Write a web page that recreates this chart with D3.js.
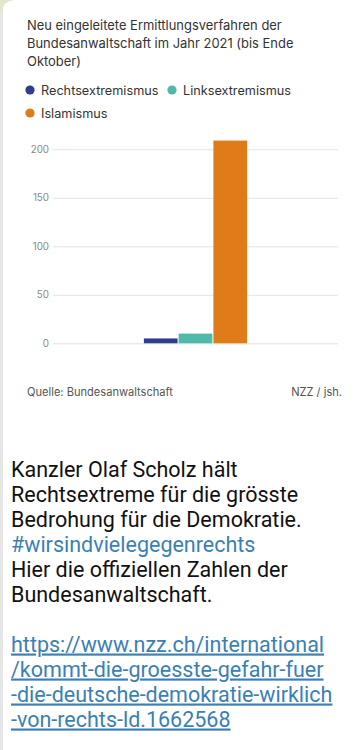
<!DOCTYPE html>
<html>
<head>
<meta charset="utf-8">
<script src="https://cdn.jsdelivr.net/npm/d3@7"></script>
<style>
  html, body { margin: 0; padding: 0; background: #fff; }
  svg { display: block; }
</style>
</head>
<body>
<div id="chart"></div>
<script>
// ---- data ----
const titleLines = ["Neu eingeleitete Ermittlungsverfahren der", "Bundesanwaltschaft im Jahr 2021 (bis Ende", "Oktober)"];
const categories = ["Rechtsextremismus", "Linksextremismus", "Islamismus"];
const values = [5, 10, 209];
const colors = ["#2e3d8c", "#4fbaa9", "#e07b19"];
const yTicks = [0, 50, 100, 150, 200];
const sourceText = "Quelle: Bundesanwaltschaft";
const creditText = "NZZ / jsh.";
const messageLines = [
  {t: "Kanzler Olaf Scholz hält", k: "text"},
  {t: "Rechtsextreme für die grösste", k: "text"},
  {t: "Bedrohung für die Demokratie.", k: "text"},
  {t: "#wirsindvielegegenrechts", k: "tag"},
  {t: "Hier die offiziellen Zahlen der", k: "text"},
  {t: "Bundesanwaltschaft.", k: "text"},
  {t: "", k: "text"},
  {t: "https://www.nzz.ch/international", k: "link"},
  {t: "/kommt-die-groesste-gefahr-fuer", k: "link"},
  {t: "-die-deutsche-demokratie-wirklich", k: "link"},
  {t: "-von-rechts-ld.1662568", k: "link"}
];

const W = 356, H = 750;
const svg = d3.select("#chart").append("svg").attr("width", W).attr("height", H);

// bubble background / left edge
svg.append("rect").attr("x", 0).attr("y", 0).attr("width", W).attr("height", H).attr("fill", "#ffffff");
svg.append("rect").attr("x", 0).attr("y", 0).attr("width", 3).attr("height", H).attr("fill", "#e6e6e6");
svg.append("path").attr("d", "M0,0 L14,0 Q3,1 2,12 L0,12 Z").attr("fill", "#dfe8c8");

const chartFont = "Inter, Roboto, sans-serif";

// title
svg.append("g").selectAll("text").data(titleLines).join("text")
  .attr("x", 27).attr("y", (d, i) => 29.5 + i * 18.2)
  .attr("font-family", chartFont).attr("font-size", 12.95)
  .attr("fill", "#333").text(d => d);

// legend
const legendItems = [
  {x: 30, y: 90}, {x: 172, y: 90}, {x: 30, y: 113}
];
const lg = svg.append("g").selectAll("g").data(categories).join("g")
  .attr("transform", (d, i) => `translate(${legendItems[i].x},${legendItems[i].y})`);
lg.append("circle").attr("r", 4.6).attr("fill", (d, i) => colors[i]);
lg.append("text").attr("x", 11).attr("y", 4.5)
  .attr("font-family", chartFont).attr("font-size", 12.7).attr("fill", "#333").text(d => d);

// chart
const plot = {left: 53, right: 338, top: 140, bottom: 343.3};
const y = d3.scaleLinear().domain([0, 200]).range([plot.bottom, 149.3]);
const x0 = d3.scaleBand().domain(["2021"]).range([plot.left, plot.right]).paddingInner(0).paddingOuter(0.88);
const x1 = d3.scaleBand().domain(categories).range([0, x0.bandwidth()]).paddingInner(0.03);

const yAxis = d3.axisLeft(y).tickValues(yTicks).tickSize(-(plot.right - plot.left)).tickPadding(4);
const ga = svg.append("g").attr("transform", `translate(${plot.left},0)`).call(yAxis);
ga.select(".domain").remove();
ga.selectAll(".tick line").attr("stroke", "#e3e3e3").attr("stroke-width", 1);
ga.selectAll(".tick text").attr("font-family", chartFont).attr("font-size", 9.8).attr("fill", "#8a8a8a");

svg.append("g").attr("transform", `translate(${x0("2021")},0)`)
  .selectAll("rect").data(values).join("rect")
  .attr("x", (d, i) => x1(categories[i]))
  .attr("width", x1.bandwidth())
  .attr("y", d => y(d))
  .attr("height", d => y(0) - y(d))
  .attr("fill", (d, i) => colors[i]);

// footer
svg.append("text").attr("x", 27).attr("y", 396)
  .attr("font-family", chartFont).attr("font-size", 11.1).attr("fill", "#555").text(sourceText);
svg.append("text").attr("x", 342).attr("y", 396).attr("text-anchor", "end")
  .attr("font-family", chartFont).attr("font-size", 11.1).attr("fill", "#555").text(creditText);

// message text
const msg = svg.append("g").selectAll("text").data(messageLines).join("text")
  .attr("x", 11).attr("y", (d, i) => 476.5 + i * 25)
  .attr("font-family", "Roboto, sans-serif").attr("font-size", 21.5)
  .attr("fill", d => d.k === "text" ? "#111" : "#3a7fb6")
  .attr("text-decoration", d => d.k === "link" ? "underline" : null)
  .text(d => d.t);
</script>
</body>
</html>
